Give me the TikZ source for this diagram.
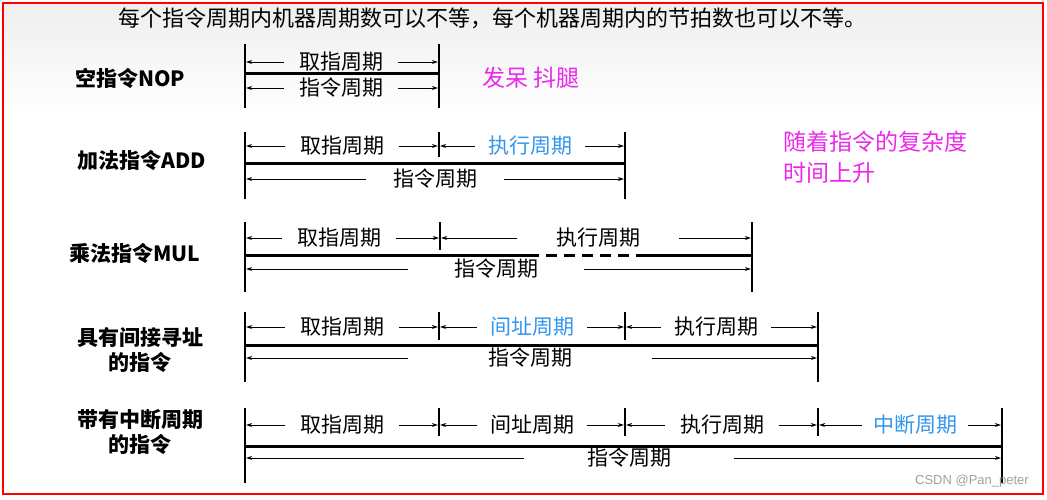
\documentclass[tikz,border=0pt]{standalone}
\usepackage{fontspec}
\setmainfont{Noto Sans CJK SC}
\newfontfamily\markfont{Liberation Sans}
\usetikzlibrary{arrows.meta, positioning}
\definecolor{hotpink}{RGB}{235,40,235}
\definecolor{stepblue}{RGB}{50,150,235}

\begin{document}
\begin{tikzpicture}[x=1pt, y=-1pt]

% Define styles
\tikzstyle{endbar} = [line width=2.4pt]
\tikzstyle{midbar} = [line width=1.8pt]
\tikzstyle{rail} = [line width=3pt]
\tikzstyle{dimarrow} = [->, >={Stealth[length=6pt, width=4pt]}, line width=0.8pt, shorten >=1.2pt]
\tikzstyle{span} = [font=\fontsize{21}{24}\selectfont, inner sep=0pt, inner xsep=15pt]
\tikzstyle{kind} = [font=\fontsize{21}{25}\selectfont\bfseries, align=center]
\tikzstyle{remark} = [font=\fontsize{23}{31}\selectfont, text=hotpink, align=left, anchor=west]

% Page and title
\useasboundingbox (0,0) rectangle (1047,499);
\shade[top color=gray!13, bottom color=white] (3,3) rectangle (1043,115);
\node[font=\fontsize{22}{26}\selectfont] (title) at (492,18) {每个指令周期内机器周期数可以不等，每个机器周期内的节拍数也可以不等。};

% NOP
\node[kind] (nop) at (130,78) {空指令NOP};
\coordinate (nop0) at (245,44);
\coordinate (nop1) at (439,44);
\draw[endbar] (nop0) -- ++(0,64);
\draw[endbar] (nop1) -- ++(0,64);
\draw[rail] (nop0 |- 0,73) -- (nop1 |- 0,73);
\node[span] (nopF) at (341,62) {取指周期};
\node[span] (nopI) at (341,88) {指令周期};
\draw[dimarrow] (nopF.west) -- (nopF.west -| nop0);
\draw[dimarrow] (nopF.east) -- (nopF.east -| nop1);
\draw[dimarrow] (nopI.west) -- (nopI.west -| nop0);
\draw[dimarrow] (nopI.east) -- (nopI.east -| nop1);
\node[remark] (idle) at (479,78) {发呆 抖腿};

% ADD
\node[kind] (add) at (142,160) {加法指令ADD};
\coordinate (add0) at (245,132);
\coordinate (add1) at (439,132);
\coordinate (add2) at (625,132);
\draw[endbar] (add0) -- ++(0,67);
\draw[midbar] (add1) -- ++(0,25);
\draw[endbar] (add2) -- ++(0,67);
\draw[rail] (add0 |- 0,163) -- (add2 |- 0,163);
\node[span] (addF) at (342,146) {取指周期};
\node[span, inner xsep=13pt, text=stepblue] (addE) at (530,146) {执行周期};
\node[span, inner xsep=27pt] (addI) at (435,179) {指令周期};
\draw[dimarrow] (addF.west) -- (addF.west -| add0);
\draw[dimarrow] (addF.east) -- (addF.east -| add1);
\draw[dimarrow] (addE.west) -- (addE.west -| add1);
\draw[dimarrow] (addE.east) -- (addE.east -| add2);
\draw[dimarrow] (addI.west) -- (addI.west -| add0);
\draw[dimarrow] (addI.east) -- (addI.east -| add2);
\node[remark] (grow) at (780,157) {随着指令的复杂度\\时间上升};

% MUL
\node[kind] (mul) at (135,253) {乘法指令MUL};
\coordinate (mul0) at (245,222);
\coordinate (mul1) at (440,222);
\coordinate (mul2) at (752,222);
\coordinate (mulDa) at (528,255);
\coordinate (mulDb) at (643,255);
\draw[endbar] (mul0) -- ++(0,70);
\draw[midbar] (mul1) -- ++(0,28);
\draw[endbar] (mul2) -- ++(0,70);
\draw[rail] (mul0 |- mulDa) -- (mulDa);
\draw[rail, dash pattern=on 11pt off 7pt] (mulDa) -- (mulDb);
\draw[rail] (mulDb) -- (mul2 |- mulDb);
\node[span] (mulF) at (339,238) {取指周期};
\node[span, inner xsep=39pt] (mulE) at (598,238) {执行周期};
\node[span, inner xsep=46pt] (mulI) at (496,269) {指令周期};
\draw[dimarrow] (mulF.west) -- (mulF.west -| mul0);
\draw[dimarrow] (mulF.east) -- (mulF.east -| mul1);
\draw[dimarrow] (mulE.west) -- (mulE.west -| mul1);
\draw[dimarrow] (mulE.east) -- (mulE.east -| mul2);
\draw[dimarrow] (mulI.west) -- (mulI.west -| mul0);
\draw[dimarrow] (mulI.east) -- (mulI.east -| mul2);

% Indirect addressing
\node[kind] (ind) at (140,350) {具有间接寻址\\的指令};
\coordinate (ind0) at (245,312);
\coordinate (ind1) at (439,312);
\coordinate (ind2) at (625,312);
\coordinate (ind3) at (818,312);
\draw[endbar] (ind0) -- ++(0,70);
\draw[midbar] (ind1) -- ++(0,28);
\draw[midbar] (ind2) -- ++(0,28);
\draw[endbar] (ind3) -- ++(0,70);
\draw[rail] (ind0 |- 0,345) -- (ind3 |- 0,345);
\node[span] (indF) at (342,327) {取指周期};
\node[span, inner xsep=13pt, text=stepblue] (indA) at (532,327) {间址周期};
\node[span, inner xsep=13pt] (indE) at (716,327) {执行周期};
\node[span, inner xsep=80pt] (indI) at (530,358) {指令周期};
\draw[dimarrow] (indF.west) -- (indF.west -| ind0);
\draw[dimarrow] (indF.east) -- (indF.east -| ind1);
\draw[dimarrow] (indA.west) -- (indA.west -| ind1);
\draw[dimarrow] (indA.east) -- (indA.east -| ind2);
\draw[dimarrow] (indE.west) -- (indE.west -| ind2);
\draw[dimarrow] (indE.east) -- (indE.east -| ind3);
\draw[dimarrow] (indI.west) -- (indI.west -| ind0);
\draw[dimarrow] (indI.east) -- (indI.east -| ind3);

% Interrupt
\node[kind] (int) at (140,432) {带有中断周期\\的指令};
\coordinate (int0) at (245,408);
\coordinate (int1) at (439,408);
\coordinate (int2) at (625,408);
\coordinate (int3) at (818,408);
\coordinate (int4) at (1002,408);
\draw[endbar] (int0) -- ++(0,75);
\draw[midbar] (int1) -- ++(0,28);
\draw[midbar] (int2) -- ++(0,28);
\draw[midbar] (int3) -- ++(0,28);
\draw[endbar] (int4) -- ++(0,75);
\draw[rail] (int0 |- 0,446) -- (int4 |- 0,446);
\node[span] (intF) at (342,425) {取指周期};
\node[span, inner xsep=13pt] (intA) at (532,425) {间址周期};
\node[span, inner xsep=15pt] (intE) at (722,425) {执行周期};
\node[span, inner xsep=11pt, text=stepblue] (intX) at (915,425) {中断周期};
\node[span, inner xsep=63pt] (intI) at (629,458) {指令周期};
\draw[dimarrow] (intF.west) -- (intF.west -| int0);
\draw[dimarrow] (intF.east) -- (intF.east -| int1);
\draw[dimarrow] (intA.west) -- (intA.west -| int1);
\draw[dimarrow] (intA.east) -- (intA.east -| int2);
\draw[dimarrow] (intE.west) -- (intE.west -| int2);
\draw[dimarrow] (intE.east) -- (intE.east -| int3);
\draw[dimarrow] (intX.west) -- (intX.west -| int3);
\draw[dimarrow] (intX.east) -- (intX.east -| int4);
\draw[dimarrow] (intI.west) -- (intI.west -| int0);
\draw[dimarrow] (intI.east) -- (intI.east -| int4);

% Watermark and frame
\node[font=\markfont\fontsize{13}{15}\selectfont, text=gray!75] (mark) at (972,481) {CSDN @Pan\_peter};
\draw[red, line width=2pt] (3,3) rectangle (1043,494);

\end{tikzpicture}
\end{document}
